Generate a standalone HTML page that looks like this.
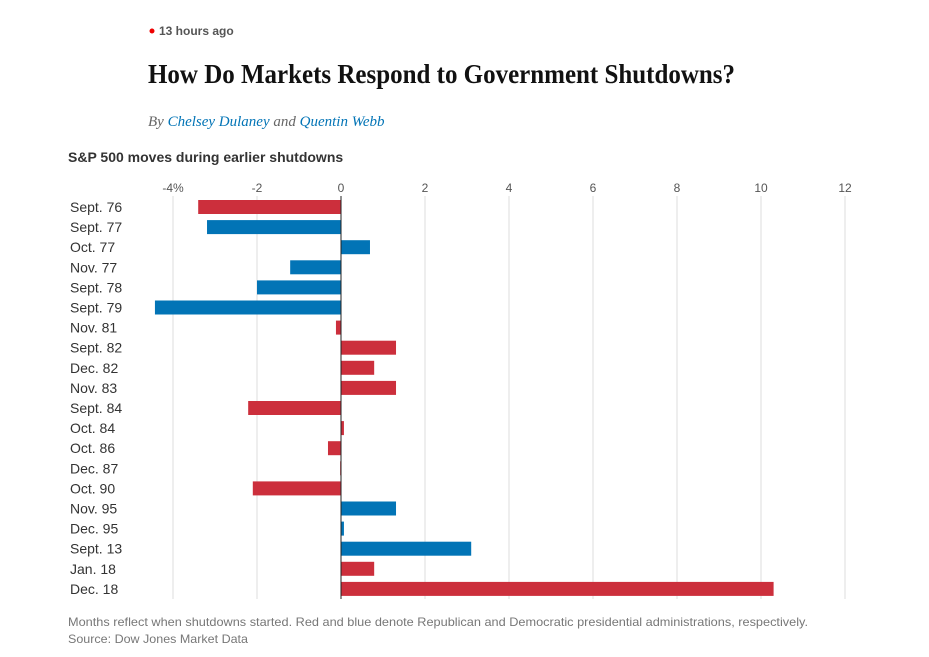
<!DOCTYPE html>
<html><head><meta charset="utf-8"><style>
body{margin:0;background:#fff;}
svg{display:block;font-family:"Liberation Sans",sans-serif;}
</style></head><body>
<svg id="c" width="929" height="657">
<circle cx="152" cy="31" r="2.5" fill="#e00"/>
<text x="159" y="35" font-size="12" fill="#555" font-weight="bold">13 hours ago</text>
<text x="148" y="83" font-family="Liberation Serif,serif" font-weight="bold" font-size="27" fill="#111" textLength="587" lengthAdjust="spacingAndGlyphs">How Do Markets Respond to Government Shutdowns?</text>
<text x="148" y="126" font-family="Liberation Serif,serif" font-style="italic" font-size="15" fill="#666">By <tspan fill="#0274b6">Chelsey Dulaney</tspan> and <tspan fill="#0274b6">Quentin Webb</tspan></text>
<text x="68" y="162" font-size="14" font-weight="bold" fill="#333">S&amp;P 500 moves during earlier shutdowns</text>
<g id="grid"></g><g id="bars"></g><g id="labels"></g>
<text x="68" y="626" font-size="12" fill="#777" textLength="740" lengthAdjust="spacingAndGlyphs">Months reflect when shutdowns started. Red and blue denote Republican and Democratic presidential administrations, respectively.</text>
<text x="68" y="643" font-size="12" fill="#777" textLength="180" lengthAdjust="spacingAndGlyphs">Source: Dow Jones Market Data</text>
</svg>
<script>
const categories=["Sept. 76","Sept. 77","Oct. 77","Nov. 77","Sept. 78","Sept. 79","Nov. 81","Sept. 82","Dec. 82","Nov. 83","Sept. 84","Oct. 84","Oct. 86","Dec. 87","Oct. 90","Nov. 95","Dec. 95","Sept. 13","Jan. 18","Dec. 18"];
const values=[-3.4,-3.19,0.69,-1.21,-2.0,-4.43,-0.12,1.31,0.79,1.31,-2.21,0.07,-0.31,-0.02,-2.1,1.31,0.07,3.1,0.79,10.3];
const parties=["R","D","D","D","D","D","R","R","R","R","R","R","R","R","R","D","D","D","R","R"];
const ticks=[-4,-2,0,2,4,6,8,10,12];
const tickLabels=["-4%","-2","0","2","4","6","8","10","12"];
const NS="http://www.w3.org/2000/svg";
const x=v=>341+v*42;
const y=i=>207+i*20.1;
function mk(t,a,p){const e=document.createElementNS(NS,t);for(const k in a)e.setAttribute(k,a[k]);p.appendChild(e);return e;}
const g=document.getElementById('grid'),b=document.getElementById('bars'),l=document.getElementById('labels');
ticks.forEach((t,i)=>{
  const ln=mk('line',{x1:x(t),x2:x(t),y1:196,y2:599,stroke:t===0?'#222':'#ddd','stroke-width':1},g);
  
  
  const tx=mk('text',{x:x(t),y:192,'text-anchor':'middle','font-size':12,fill:'#555'},g);
  tx.textContent=tickLabels[i];
  
  
});
categories.forEach((c,i)=>{
  const v=values[i];
  const r=mk('rect',{x:Math.min(x(0),x(v)),y:y(i)-7,width:Math.max(Math.abs(x(v)-x(0)),1),height:14,fill:parties[i]==='R'?'#cc2f3c':'#0274b6'},b);
  
  
  const t=mk('text',{x:70,y:y(i)+5,'font-size':14,fill:'#333'},l);
  t.textContent=c;
  
  
});
mk('line',{x1:341,x2:341,y1:196,y2:599,stroke:'#222'},b);
</script>
</body></html>
